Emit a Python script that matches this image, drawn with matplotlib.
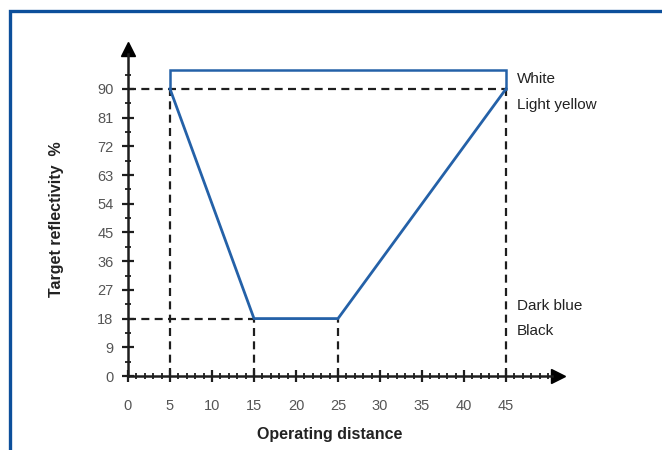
import numpy as np
import matplotlib.pyplot as plt
from matplotlib.patches import Rectangle

plt.rcParams['font.family'] = ['Liberation Sans', 'DejaVu Sans']

# data
distance = [5, 15, 25, 45]
reflectivity = [90, 18, 18, 90]
band_x = [5, 5, 45, 45]
band_y = [90, 96, 96, 90]
x_ticks = np.arange(0, 50, 5)
y_ticks = np.arange(0, 99, 9)
colour_names = ["White", "Light yellow", "Dark blue", "Black"]
colour_y = [93, 85, 22, 14]

blue = "#2461a8"
frame_blue = "#0c4f9b"
ink = "#1e1e1e"

fig = plt.figure(figsize=(6.62, 4.5), dpi=100)
ax = fig.add_axes([0, 0, 1, 1])
# pixel mapping: x=0 at px 128, 8.4 px/unit ; y=0 at px 376, 3.19 px/unit
ax.set_xlim(-128 / 8.4, (662 - 128) / 8.4)
ax.set_ylim(-(450 - 376) / 3.19, 376 / 3.19)
ax.patch.set_alpha(0)

for s in ['top', 'right']:
    ax.spines[s].set_visible(False)
ax.spines['left'].set_position(('data', 0))
ax.spines['bottom'].set_position(('data', 0))
ax.spines['left'].set_bounds(0, 101)
ax.spines['bottom'].set_bounds(0, 50.5)
for s in ['left', 'bottom']:
    ax.spines[s].set_linewidth(1.8)
    ax.spines[s].set_color(ink)

ax.set_xticks(x_ticks)
ax.set_yticks(y_ticks)
ax.set_xticks(np.arange(0, 51, 1), minor=True)
ax.set_yticks(np.arange(0, 99, 4.5), minor=True)
ax.tick_params(which='major', direction='inout', length=9, width=1.6, color=ink,
               labelsize=10.5, labelcolor='#555555')
ax.tick_params(which='minor', direction='inout', length=4, width=1.3, color=ink)
ax.tick_params(axis='x', which='major', pad=12)
ax.tick_params(axis='y', which='major', pad=6)

# arrow heads
ax.plot(51.2, 0, marker='>', ms=10, color='black', clip_on=False)
ax.plot(0, 102.5, marker='^', ms=10, color='black', clip_on=False)

# dashed guide lines
dash = dict(color=ink, lw=1.6, ls=(0, (3.6, 2.4)))
ax.plot([0, distance[3]], [reflectivity[0], reflectivity[3]], **dash)
ax.plot([0, distance[1]], [reflectivity[1], reflectivity[1]], **dash)
for d, r in zip(distance, reflectivity):
    ax.plot([d, d], [0, r], **dash)

# operating curve
ax.plot(band_x, band_y, color=blue, lw=1.8, solid_joinstyle='miter')
ax.plot(distance, reflectivity, color=blue, lw=2.0)

for name, yv in zip(colour_names, colour_y):
    ax.text(46.3, yv, name, fontsize=11, color='#222222', va='center', ha='left')

fig.text(330 / 662, 1 - 435 / 450, "Operating distance", fontsize=11.5, fontweight='bold',
         ha='center', va='center', color='#222222')
fig.text(57 / 662, 1 - 219 / 450, "Target reflectivity  %", fontsize=11.5, fontweight='bold',
         ha='center', va='center', rotation=90, color='#222222')

# outer frame (only top and left edges visible)
fig.patches.append(Rectangle((9.5 / 662, -0.1), 1.2, 1 - 10.5 / 450 + 0.1,
                             transform=fig.transFigure, fill=False,
                             ec=frame_blue, lw=2.4))

fig.savefig("out.png", dpi=100)
